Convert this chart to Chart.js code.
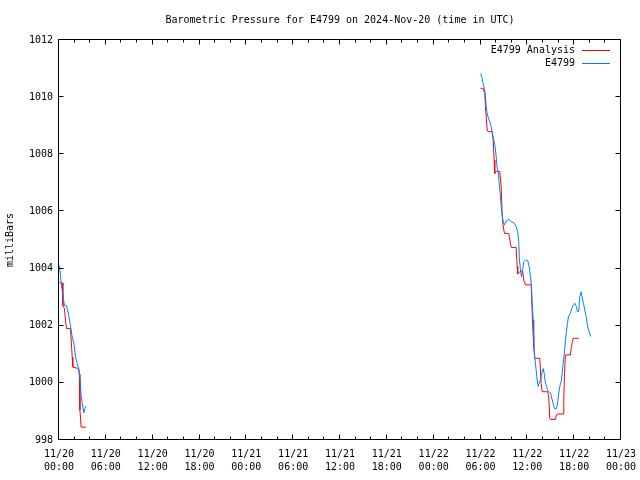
<!DOCTYPE html>
<html>
<head>
<meta charset="utf-8">
<script src="https://cdn.jsdelivr.net/npm/chart.js@4"></script>
<style>
  body { margin: 0; background: #fff; }
</style>
</head>
<body>
<canvas id="myChart" width="640" height="480"></canvas>
<script>
// hours since 2024-11-20 00:00 UTC; null value = gap in the record
var analysisHours = [0.06, 0.41, 0.50, 0.70, 0.83, 0.96, 1.47, 1.56, 1.69, 1.77, 2.54, 2.60, 2.68, 2.84, 3.48,
  24,
  53.99, 54.34, 54.54, 54.64, 54.76, 54.85, 54.98, 55.49, 55.62, 55.75, 55.83, 56.04, 56.47, 56.65, 56.77,
  56.90, 57.07, 57.62, 57.84, 57.93, 58.57, 58.70, 58.77, 59.03, 59.41, 59.54, 59.76, 60.49, 60.66, 60.75,
  60.82, 60.95, 61.59, 61.68, 61.77, 61.90, 62.62, 62.75, 62.87, 62.96, 63.60, 63.73, 63.82, 64.59, 64.67,
  64.76, 64.88, 65.52, 65.65, 65.78, 65.87, 66.59];
var analysisMb = [1003.5, 1003.5, 1002.7, 1002.6, 1002.2, 1001.9, 1001.9, 1001.5, 1000.9, 1000.55, 1000.5, 1000.3, 999.05, 998.45, 998.45,
  null,
  1010.31, 1010.31, 1010.13, 1009.67, 1009.2, 1008.85, 1008.79, 1008.79, 1008.5, 1007.8, 1007.33, 1007.4, 1007.4, 1006.87, 1005.93,
  1005.5, 1005.23, 1005.23, 1004.88, 1004.74, 1004.74, 1004.07, 1003.81, 1003.89, 1003.89, 1003.6, 1003.43, 1003.43, 1002.2, 1001.62,
  1001.27, 1000.86, 1000.86, 1000.45, 999.98, 999.69, 999.69, 999.46, 998.76, 998.72, 998.72, 998.88, 998.91, 998.91, 999.4,
  1000.33, 1000.98, 1000.98, 1001.27, 1001.44, 1001.56, 1001.56];

var stationHours = [0.06, 0.28, 0.49, 0.70, 0.96, 1.22, 1.47, 1.69, 1.90, 2.11, 2.33, 2.54, 2.75, 2.82, 2.97, 3.18, 3.30, 3.48,
  24,
  54.03, 54.21, 54.34, 54.51, 54.64, 54.73, 54.85, 55.02, 55.19, 55.37, 55.53, 55.70, 55.88, 56.01, 56.13,
  56.26, 56.39, 56.52, 56.65, 56.77, 56.90, 57.07, 57.32, 57.62, 57.93, 58.26, 58.57, 58.77, 58.90, 58.99,
  59.12, 59.25, 59.38, 59.54, 59.80, 60.05, 60.23, 60.40, 60.53, 60.62, 60.75, 60.82, 60.95, 61.13, 61.26,
  61.39, 61.51, 61.68, 61.85, 62.03, 62.16, 62.29, 62.45, 62.62, 62.80, 62.96, 63.13, 63.31, 63.48, 63.73,
  63.90, 64.03, 64.15, 64.33, 64.46, 64.59, 64.76, 64.88, 65.01, 65.14, 65.27, 65.52, 65.69, 65.87, 66.12,
  66.29, 66.42, 66.59, 66.71, 66.89, 67.02, 67.19, 67.36, 67.53, 67.66, 67.83, 68.00, 68.12];
var stationMb = [1004.1, 1003.5, 1003.1, 1002.7, 1002.7, 1002.4, 1002.0, 1001.6, 1001.4, 1000.9, 1000.7, 1000.45, 999.99, 999.6, 999.3, 998.95, 999.1, 999.2,
  null,
  1010.83, 1010.66, 1010.48, 1010.3, 1010.0, 1009.67, 1009.43, 1009.26, 1009.14, 1008.97, 1008.73, 1008.5, 1008.27, 1007.92, 1007.51,
  1007.4, 1007.0, 1006.63, 1006.17, 1005.88, 1005.64, 1005.53, 1005.68, 1005.72, 1005.64, 1005.6, 1005.47, 1005.29, 1004.94, 1004.3,
  1003.95, 1003.72, 1003.9, 1004.24, 1004.3, 1004.28, 1004.07, 1003.72, 1003.37, 1002.78, 1002.2, 1001.5, 1000.91, 1000.45, 1000.1,
  999.87, 999.98, 1000.1, 1000.33, 1000.5, 1000.33, 1000.04, 999.87, 999.73, 999.69, 999.64, 999.46, 999.28, 999.1, 999.1,
  999.34, 999.64, 999.87, 1000.04, 1000.33, 1000.68, 1001.09, 1001.5, 1001.79, 1002.08, 1002.32, 1002.43, 1002.6, 1002.72, 1002.78,
  1002.67, 1002.49, 1002.5, 1003.0, 1003.19, 1003.0, 1002.78, 1002.55, 1002.32, 1002.08, 1001.85, 1001.73, 1001.62];

var dayLabels = ['11/20', '11/21', '11/22', '11/23'];
var hourLabels = ['00:00', '06:00', '12:00', '18:00'];
var chartTitle = 'Barometric Pressure for E4799 on 2024-Nov-20 (time in UTC)';

var FONT = "'DejaVu Sans Mono', 'Liberation Mono', monospace";

function toPoints(hours, vals) {
  return hours.map((h, i) => ({ x: h, y: vals[i] }));
}

// gnuplot style frame: box round the plot, tics pointing inward, key top right,
// title centred over the plot area
const framePlugin = {
  id: 'frame',
  afterDraw(chart) {
    const c = chart.ctx;
    const a = chart.chartArea;
    const xs = chart.scales.x, ys = chart.scales.y;
    const L = Math.round(a.left) - 0.5, R = Math.round(a.right) - 0.5;
    const T = Math.round(a.top) - 0.5, B = Math.round(a.bottom) - 0.5;
    c.save();
    c.strokeStyle = '#000';
    c.lineWidth = 1;
    c.beginPath();
    c.rect(L, T, R - L, B - T);
    xs.ticks.forEach(t => {
      const px = Math.round(xs.getPixelForValue(t.value)) - 0.5;
      const len = t.value % 6 === 0 ? 5 : 3;
      c.moveTo(px, B); c.lineTo(px, B - len);
      c.moveTo(px, T); c.lineTo(px, T + len);
    });
    ys.ticks.forEach(t => {
      const py = Math.round(ys.getPixelForValue(t.value)) - 0.5;
      c.moveTo(L, py); c.lineTo(L + 5, py);
      c.moveTo(R, py); c.lineTo(R - 5, py);
    });
    c.stroke();

    c.font = '10px ' + FONT;
    c.fillStyle = '#000';
    c.textBaseline = 'middle';
    c.textAlign = 'center';
    c.fillText(chartTitle, (a.left + a.right) / 2, 20);

    // key
    c.textAlign = 'right';
    const keyOrder = [1, 0];
    keyOrder.forEach((di, row) => {
      const ds = chart.data.datasets[di];
      const y = Math.round(a.top + 10 + row * 12.7) + 0.5;
      const lineEnd = a.right - 11;
      const lineStart = lineEnd - 28;
      c.fillText(ds.label, lineStart - 7, y);
      c.strokeStyle = ds.borderColor;
      c.beginPath();
      c.moveTo(lineStart, y); c.lineTo(lineEnd, y);
      c.stroke();
    });
    c.restore();
  }
};

const config = {
  type: 'line',
  data: {
    datasets: [{
      label: 'E4799',
      data: toPoints(stationHours, stationMb),
      borderColor: 'rgb(0, 128, 255)',
      borderWidth: 1,
      pointRadius: 0,
      fill: false,
      spanGaps: false,
      tension: 0,
      order: 0
    }, {
      label: 'E4799 Analysis',
      data: toPoints(analysisHours, analysisMb),
      borderColor: 'rgb(255, 0, 0)',
      borderWidth: 1,
      pointRadius: 0,
      fill: false,
      spanGaps: false,
      tension: 0,
      order: 1
    }]
  },
  options: {
    responsive: false,
    animation: false,
    devicePixelRatio: 1,
    layout: { padding: { left: 0, right: 19, top: 40, bottom: 0 } },
    plugins: {
      legend: { display: false },
      tooltip: { enabled: false },
      title: { display: false }
    },
    scales: {
      x: {
        type: 'linear',
        min: 0,
        max: 72,
        grid: { display: false, drawTicks: false },
        border: { display: false },
        afterFit: (scale) => { scale.height = 40; scale.paddingLeft = 0; scale.paddingRight = 0; },
        ticks: {
          stepSize: 2,
          autoSkip: false,
          maxRotation: 0,
          padding: 8,
          color: '#000',
          font: { family: FONT, size: 10, lineHeight: 1.3 },
          callback: (v) => v % 6 === 0 ? [dayLabels[Math.floor(v / 24)], hourLabels[(v % 24) / 6]] : ''
        }
      },
      y: {
        min: 998,
        max: 1012,
        grid: { display: false, drawTicks: false },
        border: { display: false },
        afterFit: (scale) => { scale.width = 59; scale.paddingTop = 0; scale.paddingBottom = 0; },
        title: {
          display: true,
          text: 'milliBars',
          color: '#000',
          font: { family: FONT, size: 10 },
          padding: { top: 4, bottom: 0 }
        },
        ticks: {
          stepSize: 2,
          padding: 6,
          color: '#000',
          font: { family: FONT, size: 10 },
          callback: (v) => String(v)
        }
      }
    }
  },
  plugins: [framePlugin]
};

var ctx = document.getElementById('myChart');
var myChart = new Chart(ctx, config);
</script>
</body>
</html>
